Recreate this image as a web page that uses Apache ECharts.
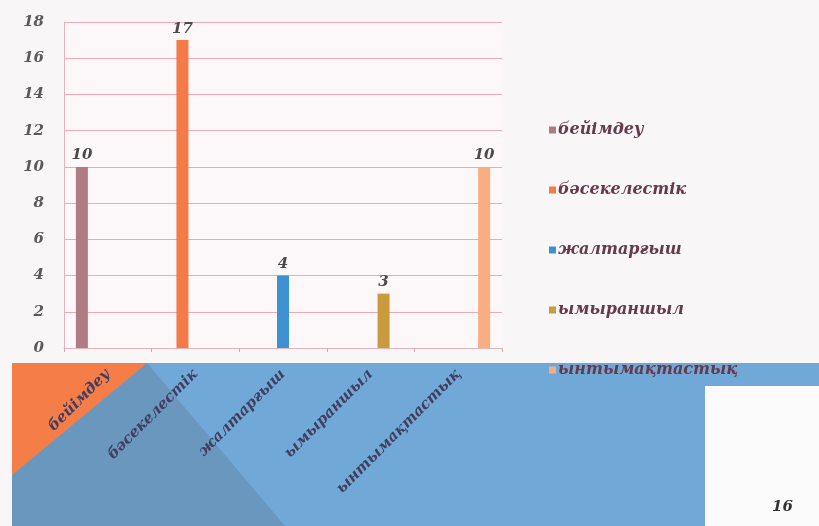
<!DOCTYPE html>
<html><head><meta charset="utf-8">
<script src="https://cdn.jsdelivr.net/npm/echarts@6/dist/echarts.min.js"></script>
<style>html,body{margin:0;padding:0;background:#f9f6f7;}#c{width:819px;height:526px;}</style>
</head><body><div id="c"></div>
<script>
const categories = ['бейімдеу', 'бәсекелестік', 'жалтарғыш', 'ымыраншыл', 'ынтымақтастық'];
const seriesNames = ['бейімдеу', 'бәсекелестік', 'жалтарғыш', 'ымыраншыл', 'ынтымақтастық'];
const values = [10, 17, 4, 3, 10];
const colors = ['#b07c84', '#f47a48', '#3e91d2', '#c99a3e', '#f8ae80'];
const yTicks = [0, 2, 4, 6, 8, 10, 12, 14, 16, 18];
const pageNumber = '16';

const font = '"DejaVu Serif", "Liberation Serif", serif';
const chart = echarts.init(document.getElementById('c'));
const series = seriesNames.map((name, i) => ({
  name, type: 'bar', barWidth: 12, barGap: '8%',
  itemStyle: { color: colors[i] },
  data: categories.map((c, j) => j === i ? values[i] : null),
  label: { show: true, position: 'top', distance: 4, formatter: p => p.value == null ? '' : p.value,
    fontFamily: font, fontStyle: 'italic', fontWeight: 'bold', fontSize: 15, color: '#4a4a4a' }
}));
chart.setOption({
  animation: false,
  backgroundColor: '#f9f6f7',
  graphic: [
    { type: 'rect', z: -10, shape: { x: 12, y: 363, width: 807, height: 163 }, style: { fill: '#70a9d7' } },
    { type: 'polygon', z: -9, shape: { points: [[147, 363], [285, 526], [12, 526], [12, 475]] }, style: { fill: '#6a97bd' } },
    { type: 'polygon', z: -8, shape: { points: [[12, 363], [147, 363], [12, 475]] }, style: { fill: '#f47d48' } },
    { type: 'rect', z: -7, shape: { x: 705, y: 386, width: 114, height: 140 }, style: { fill: '#fcfbfc' } },
    { type: 'text', z: 10, left: 772, top: 500, style: { text: pageNumber, font: 'italic bold 15px ' + font, fill: '#333' } }
  ],
  grid: { left: 64, right: 317, top: 22, bottom: 178, show: true, backgroundColor: '#fcf7f9', borderWidth: 0 },
  legend: {
    orient: 'vertical', left: 544, top: 117, itemGap: 44, itemWidth: 7, itemHeight: 7,
    icon: 'rect', data: seriesNames,
    textStyle: { fontFamily: font, fontStyle: 'italic', fontWeight: 'bold', fontSize: 16, color: '#653a4c', padding: [0, 0, 0, -3] }
  },
  xAxis: {
    type: 'category', data: categories,
    axisLine: { lineStyle: { color: '#e8b4bc' } },
    axisTick: { show: true, alignWithLabel: false, lineStyle: { color: '#d8a8b0' }, length: 4 },
    axisLabel: { rotate: 45, margin: 24, fontFamily: font, fontStyle: 'italic', fontWeight: 'bold', fontSize: 15, color: '#433e60' }
  },
  yAxis: {
    type: 'value', min: 0, max: 18, interval: 2,
    axisLine: { show: true, lineStyle: { color: '#e8b4bc' } },
    splitLine: { lineStyle: { color: '#f0a8b4', width: 1 } },
    axisLabel: { margin: 20, fontFamily: font, fontStyle: 'italic', fontWeight: 'bold', fontSize: 15, color: '#5a5a5a',
      formatter: v => yTicks.includes(v) ? v : '' }
  },
  series
});
</script></body></html>
